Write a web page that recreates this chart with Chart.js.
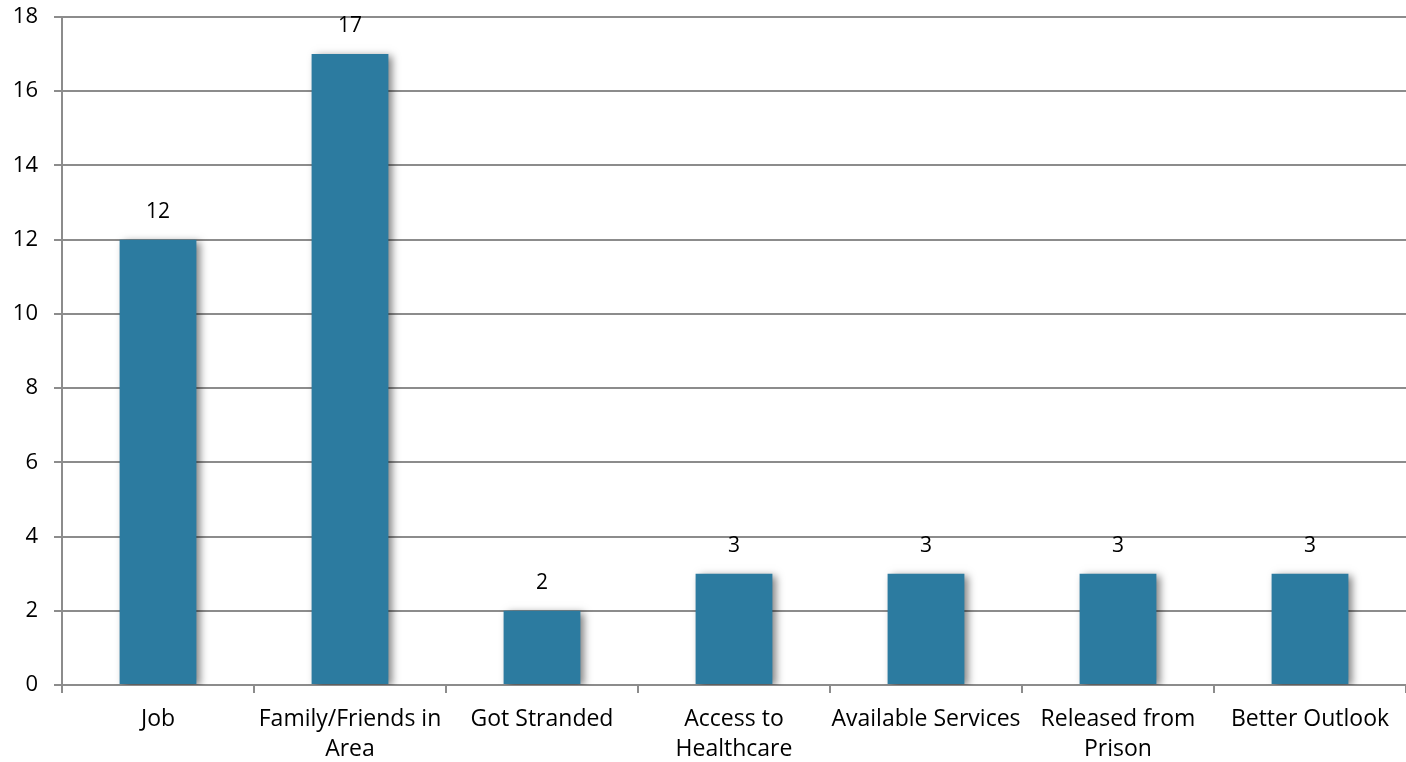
<!DOCTYPE html>
<html>
<head>
<meta charset="UTF-8">
<title>Reasons</title>
<script src="https://cdn.jsdelivr.net/npm/chart.js@4"></script>
<style>
  html, body { margin: 0; padding: 0; background: #fff; }
  #wrap { width: 1406px; height: 762px; position: relative; }
</style>
</head>
<body>
<div id="wrap"><canvas id="chart"></canvas></div>
<script>
const categories = [
  'Job',
  ['Family/Friends in', 'Area'],
  'Got Stranded',
  ['Access to', 'Healthcare'],
  'Available Services',
  ['Released from', 'Prison'],
  'Better Outlook'
];
const counts = [12, 17, 2, 3, 3, 3, 3];
const yMin = 0, yMax = 18, yStep = 2;

const FONT = '"Open Sans", sans-serif';

// shadow behind the bars
const barShadow = {
  id: 'barShadow',
  beforeDatasetsDraw(chart) {
    const c = chart.ctx;
    c.save();
    c.shadowColor = 'rgba(0,0,0,0.5)';
    c.shadowBlur = 8;
    c.shadowOffsetX = 4;
    c.shadowOffsetY = 2;
  },
  afterDatasetsDraw(chart) {
    chart.ctx.restore();
  }
};

// value labels above the bars
const valueLabels = {
  id: 'valueLabels',
  afterDatasetsDraw(chart) {
    const c = chart.ctx;
    const meta = chart.getDatasetMeta(0);
    c.save();
    c.fillStyle = '#000';
    c.font = '21px ' + FONT;
    c.textAlign = 'center';
    c.textBaseline = 'middle';
    meta.data.forEach((bar, i) => {
      c.fillText(String(counts[i]), bar.x, bar.y - 28);
    });
    c.restore();
  }
};

new Chart(document.getElementById('chart'), {
  type: 'bar',
  data: {
    labels: categories,
    datasets: [{
      data: counts,
      backgroundColor: '#2C7BA0',
      borderWidth: 0,
      barPercentage: 0.4,
      categoryPercentage: 1
    }]
  },
  options: {
    responsive: true,
    maintainAspectRatio: false,
    animation: false,
    layout: { padding: { top: 17, right: 0, left: 0, bottom: 0 } },
    plugins: {
      legend: { display: false },
      tooltip: { enabled: false }
    },
    scales: {
      x: {
        offset: true,
        grid: {
          offset: true,
          drawOnChartArea: false,
          color: '#8c8c8c',
          lineWidth: 2,
          tickLength: 8
        },
        border: { color: '#8c8c8c', width: 2 },
        ticks: {
          color: '#000',
          font: { family: FONT, size: 23, lineHeight: 1.3 },
          maxRotation: 0,
          autoSkip: false,
          padding: 12
        },
        afterFit(scale) { scale.height = 77; }
      },
      y: {
        min: yMin,
        max: yMax,
        ticks: {
          stepSize: yStep,
          color: '#000',
          font: { family: FONT, size: 22, lineHeight: 1 },
          padding: 16
        },
        grid: {
          color: '#8c8c8c',
          lineWidth: 2,
          tickLength: 8
        },
        border: { color: '#8c8c8c', width: 2 },
        afterFit(scale) {
          scale.width = 62;
          scale.paddingTop = 0;
          scale.paddingBottom = 0;
        }
      }
    }
  },
  plugins: [barShadow, valueLabels]
});
</script>
</body>
</html>
